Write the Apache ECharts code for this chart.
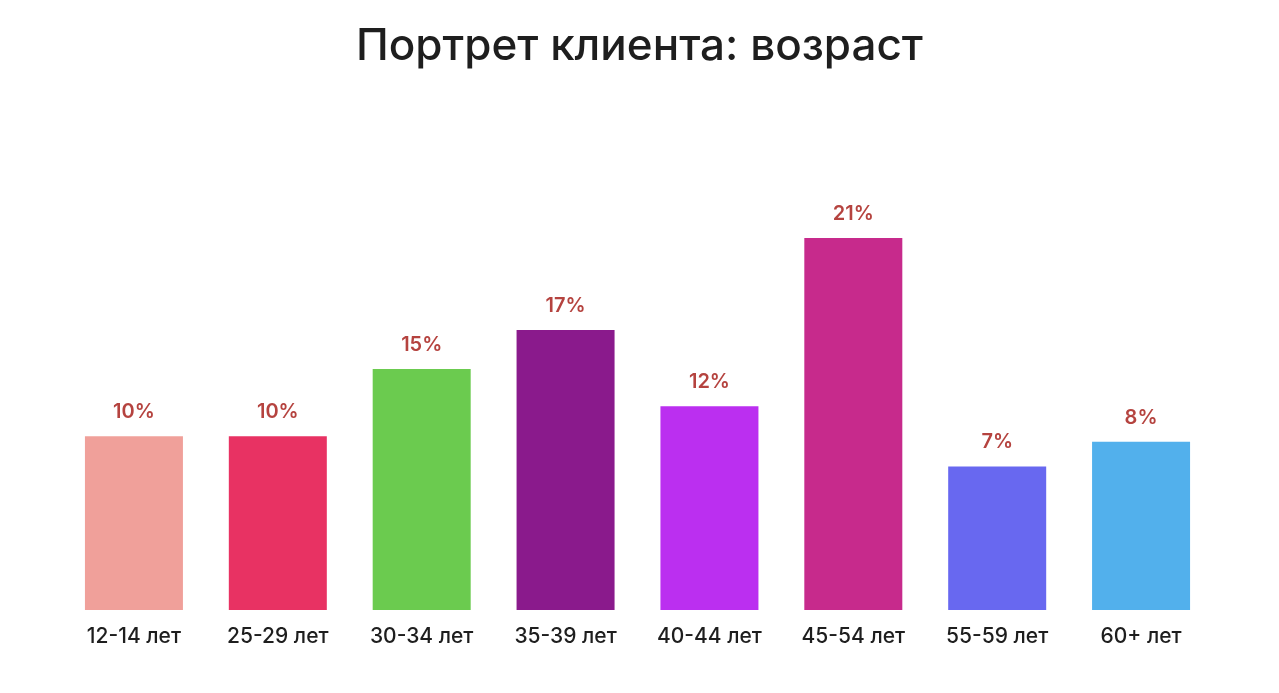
<!DOCTYPE html>
<html><head><meta charset="utf-8">
<script src="https://cdn.jsdelivr.net/npm/echarts@6/dist/echarts.min.js"></script>
<style>html,body{margin:0;padding:0;background:#fff}#c{width:1279px;height:693px}</style>
</head><body><div id="c"></div>
<script>
const categories = ['12-14 лет','25-29 лет','30-34 лет','35-39 лет','40-44 лет','45-54 лет','55-59 лет','60+ лет'];
const values = [9.8, 9.8, 13.6, 15.8, 11.5, 21, 8.1, 9.5];
const labels = ['10%','10%','15%','17%','12%','21%','7%','8%'];
const colors = ['#f0a09a','#e83263','#6bcb4f','#8a1a8c','#bb2ff0','#c72a8c','#6868f0','#52b0ec'];
const chart = echarts.init(document.getElementById('c'));
chart.setOption({
  animation:false,
  title:{text:'Портрет клиента: возраст',left:'center',top:20,textStyle:{fontFamily:'Inter',fontSize:44,fontWeight:500,color:'#1e1e1e'}},
  grid:{left:62,right:66,top:167,bottom:83},
  xAxis:{type:'category',data:categories,axisLine:{show:false},axisTick:{show:false},
    axisLabel:{margin:16,fontFamily:'Inter',fontSize:21,fontWeight:500,color:'#1e1e1e'}},
  yAxis:{type:'value',min:0,max:25,show:false,splitLine:{show:false}},
  series:[{type:'bar',barWidth:98,
    data:values.map((v,i)=>({value:v,itemStyle:{color:colors[i]}})),
    label:{show:true,position:'top',distance:14,fontFamily:'Inter',fontSize:20,fontWeight:600,color:'#b5433f',
      formatter:p=>labels[p.dataIndex]}}]
});
</script></body></html>
